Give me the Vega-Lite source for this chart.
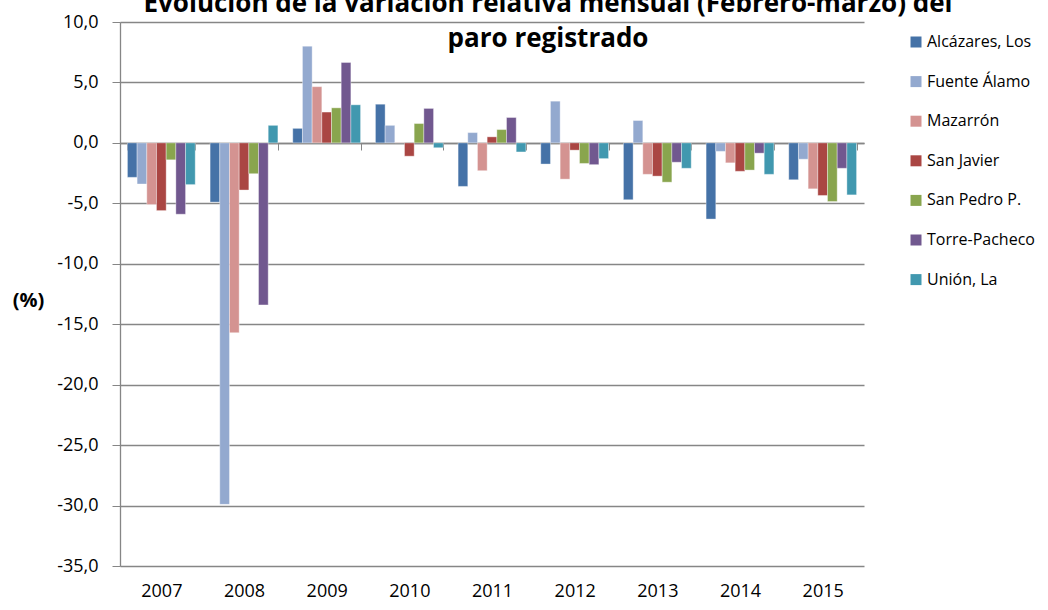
{
  "$schema": "https://vega.github.io/schema/vega-lite/v6.json",
  "autosize": "none",
  "width": 744,
  "height": 544,
  "padding": {"left": 120, "top": 22, "right": 184, "bottom": 44},
  "background": "white",
  "title": {
    "text": ["Evolución de la variación relativa mensual (Febrero-marzo) del", "paro registrado"],
    "fontSize": 26,
    "font": "Open Sans",
    "fontWeight": "bold",
    "color": "#000000",
    "lineHeight": 35,
    "anchor": "middle",
    "frame": "group",
    "dx": 56,
    "offset": -39
  },
  "config": {
    "font": "Open Sans",
    "view": {"stroke": null},
    "axis": {"labelColor": "#000000", "titleColor": "#000000"}
  },
  "data": {
    "values": [
      {"year": "2007", "municipio": "Alcázares, Los", "valor": -2.85},
      {"year": "2007", "municipio": "Fuente Álamo", "valor": -3.4},
      {"year": "2007", "municipio": "Mazarrón", "valor": -5.1},
      {"year": "2007", "municipio": "San Javier", "valor": -5.6},
      {"year": "2007", "municipio": "San Pedro P.", "valor": -1.4},
      {"year": "2007", "municipio": "Torre-Pacheco", "valor": -5.9},
      {"year": "2007", "municipio": "Unión, La", "valor": -3.45},
      {"year": "2008", "municipio": "Alcázares, Los", "valor": -4.9},
      {"year": "2008", "municipio": "Fuente Álamo", "valor": -29.9},
      {"year": "2008", "municipio": "Mazarrón", "valor": -15.7},
      {"year": "2008", "municipio": "San Javier", "valor": -3.9},
      {"year": "2008", "municipio": "San Pedro P.", "valor": -2.55},
      {"year": "2008", "municipio": "Torre-Pacheco", "valor": -13.4},
      {"year": "2008", "municipio": "Unión, La", "valor": 1.45},
      {"year": "2009", "municipio": "Alcázares, Los", "valor": 1.2},
      {"year": "2009", "municipio": "Fuente Álamo", "valor": 8.0},
      {"year": "2009", "municipio": "Mazarrón", "valor": 4.65},
      {"year": "2009", "municipio": "San Javier", "valor": 2.55},
      {"year": "2009", "municipio": "San Pedro P.", "valor": 2.9},
      {"year": "2009", "municipio": "Torre-Pacheco", "valor": 6.65},
      {"year": "2009", "municipio": "Unión, La", "valor": 3.15},
      {"year": "2010", "municipio": "Alcázares, Los", "valor": 3.2},
      {"year": "2010", "municipio": "Fuente Álamo", "valor": 1.45},
      {"year": "2010", "municipio": "Mazarrón", "valor": 0.02},
      {"year": "2010", "municipio": "San Javier", "valor": -1.1},
      {"year": "2010", "municipio": "San Pedro P.", "valor": 1.6},
      {"year": "2010", "municipio": "Torre-Pacheco", "valor": 2.85},
      {"year": "2010", "municipio": "Unión, La", "valor": -0.4},
      {"year": "2011", "municipio": "Alcázares, Los", "valor": -3.6},
      {"year": "2011", "municipio": "Fuente Álamo", "valor": 0.85},
      {"year": "2011", "municipio": "Mazarrón", "valor": -2.3},
      {"year": "2011", "municipio": "San Javier", "valor": 0.5},
      {"year": "2011", "municipio": "San Pedro P.", "valor": 1.1},
      {"year": "2011", "municipio": "Torre-Pacheco", "valor": 2.1},
      {"year": "2011", "municipio": "Unión, La", "valor": -0.75},
      {"year": "2012", "municipio": "Alcázares, Los", "valor": -1.75},
      {"year": "2012", "municipio": "Fuente Álamo", "valor": 3.45},
      {"year": "2012", "municipio": "Mazarrón", "valor": -3.0},
      {"year": "2012", "municipio": "San Javier", "valor": -0.6},
      {"year": "2012", "municipio": "San Pedro P.", "valor": -1.7},
      {"year": "2012", "municipio": "Torre-Pacheco", "valor": -1.8},
      {"year": "2012", "municipio": "Unión, La", "valor": -1.3},
      {"year": "2013", "municipio": "Alcázares, Los", "valor": -4.7},
      {"year": "2013", "municipio": "Fuente Álamo", "valor": 1.85},
      {"year": "2013", "municipio": "Mazarrón", "valor": -2.6},
      {"year": "2013", "municipio": "San Javier", "valor": -2.75},
      {"year": "2013", "municipio": "San Pedro P.", "valor": -3.25},
      {"year": "2013", "municipio": "Torre-Pacheco", "valor": -1.6},
      {"year": "2013", "municipio": "Unión, La", "valor": -2.1},
      {"year": "2014", "municipio": "Alcázares, Los", "valor": -6.3},
      {"year": "2014", "municipio": "Fuente Álamo", "valor": -0.7},
      {"year": "2014", "municipio": "Mazarrón", "valor": -1.65},
      {"year": "2014", "municipio": "San Javier", "valor": -2.35},
      {"year": "2014", "municipio": "San Pedro P.", "valor": -2.25},
      {"year": "2014", "municipio": "Torre-Pacheco", "valor": -0.85},
      {"year": "2014", "municipio": "Unión, La", "valor": -2.6},
      {"year": "2015", "municipio": "Alcázares, Los", "valor": -3.05},
      {"year": "2015", "municipio": "Fuente Álamo", "valor": -1.35},
      {"year": "2015", "municipio": "Mazarrón", "valor": -3.8},
      {"year": "2015", "municipio": "San Javier", "valor": -4.35},
      {"year": "2015", "municipio": "San Pedro P.", "valor": -4.85},
      {"year": "2015", "municipio": "Torre-Pacheco", "valor": -2.1},
      {"year": "2015", "municipio": "Unión, La", "valor": -4.3}
    ]
  },
  "mark": {"type": "bar", "stroke": "#ffffff", "strokeOpacity": 0.45, "strokeWidth": 0.8},
  "encoding": {
    "x": {
      "field": "year",
      "type": "nominal",
      "scale": {"paddingInner": 0.18, "paddingOuter": 0.09},
      "axis": {
        "orient": "top",
        "offset": -121,
        "title": null,
        "labelAngle": 0,
        "labelFontSize": 18,
        "labelBaseline": "middle",
        "labelPadding": -441,
        "tickBand": "extent",
        "tickSize": -7,
        "tickColor": "#868686",
        "domainColor": "#868686",
        "domainWidth": 1.3,
        "grid": false
      }
    },
    "xOffset": {
      "field": "municipio",
      "type": "nominal",
      "sort": ["Alcázares, Los", "Fuente Álamo", "Mazarrón", "San Javier", "San Pedro P.", "Torre-Pacheco", "Unión, La"],
      "scale": {"paddingInner": 0, "paddingOuter": 0}
    },
    "y": {
      "field": "valor",
      "type": "quantitative",
      "scale": {"domain": [-35, 10], "nice": false, "zero": false},
      "axis": {
        "title": "(%)",
        "titleAngle": 0,
        "titleFontSize": 20,
        "titleFontWeight": "bold",
        "titleAlign": "center",
        "titleBaseline": "middle",
        "titleX": -92,
        "titleY": 278,
        "values": [-35, -30, -25, -20, -15, -10, -5, 0, 5, 10],
        "labelExpr": "replace(replace(format(datum.value, '.1f'), '.', ','), '−', '-')",
        "labelFontSize": 18,
        "labelPadding": 14,
        "tickSize": 8,
        "tickColor": "#868686",
        "domainColor": "#868686",
        "domainWidth": 1.3,
        "grid": true,
        "gridColor": "#868686",
        "gridWidth": 1.3
      }
    },
    "color": {
      "field": "municipio",
      "type": "nominal",
      "scale": {
        "domain": ["Alcázares, Los", "Fuente Álamo", "Mazarrón", "San Javier", "San Pedro P.", "Torre-Pacheco", "Unión, La"],
        "range": ["#4572A7", "#93A9CF", "#D49391", "#AA4643", "#89A54E", "#71588F", "#4198AF"]
      },
      "legend": {
        "title": null,
        "orient": "none",
        "legendX": 788,
        "legendY": 12,
        "symbolType": "square",
        "symbolSize": 121,
        "symbolStrokeWidth": 0,
        "labelFontSize": 16,
        "labelColor": "#000000",
        "labelOffset": 3,
        "rowPadding": 23.6
      }
    }
  }
}
